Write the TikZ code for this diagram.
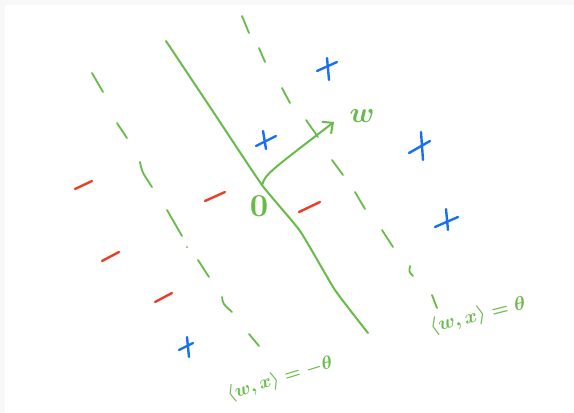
\documentclass[tikz,border=0pt]{standalone}
\usetikzlibrary{arrows.meta}
\definecolor{sketchgreen}{RGB}{104,187,72}
\definecolor{sketchblue}{RGB}{24,112,240}
\definecolor{sketchred}{RGB}{236,62,34}
\definecolor{edgegray}{RGB}{248,248,248}
\tikzset{
  hyper/.style={draw=sketchgreen, line width=2pt, line cap=round, line join=round},
  dashmark/.style={draw=sketchgreen, line width=1.8pt, line cap=round},
  wvec/.style={draw=sketchgreen, line width=2pt, line cap=round,
    -{Straight Barb[length=8pt,width=15pt,line width=2pt]}},
  posmark/.style={draw=sketchblue, line width=2.4pt, line cap=round},
  negmark/.style={draw=sketchred, line width=2.4pt, line cap=round},
  greenlabel/.style={text=sketchgreen, inner sep=0pt, transform shape, font=\boldmath},
}
\begin{document}
\begin{tikzpicture}[x=1pt,y=-1pt]
\useasboundingbox (0,0) rectangle (574,413);
\fill[edgegray] (0,0) rectangle (574,5);
\fill[edgegray] (0,5) rectangle (5,413);

% solid separating line through the origin
\coordinate (O) at (262,185);
\draw[hyper] plot[smooth, tension=0.3] coordinates
  {(166,41) (214,113) (262,185) (300,231) (335,290) (368,333)};

% dashed line <w,x> = theta (right)
\foreach \a/\b in {{(242,16)/(249,33)},{(259,48)/(265,62)},{(282,88)/(290,103)},{(306,120)/(318,137)},
  {(332,160)/(343,175)},{(355,192)/(365,209)},{(382,230)/(393,247)},{(432,295)/(437,308)}}
  \draw[dashmark] \a -- \b;
\draw[dashmark] (410,266) .. controls (409,272) .. (413,276);

% dashed line <w,x> = -theta (left)
\foreach \a/\b in {{(92,73)/(103,92)},{(117,123)/(127,138)},{(167,210)/(182,236)},
  {(198,260)/(209,277)},{(249,334)/(259,346)}}
  \draw[dashmark] \a -- \b;
\draw[dashmark] (140,162) .. controls (142,172) .. (152,187);
\draw[dashmark] (222,297) .. controls (223,304) .. (232,312);
\fill[sketchgreen] (187,247) circle (1pt);

% weight vector
\coordinate (wtip) at (334,122);
\draw[wvec] (O) .. controls (266,174) .. (wtip);
\node[greenlabel, scale=2.9] (wlab) at (362,116) {$w$};
\node[greenlabel, scale=3.2] (zero) at (259,206) {$0$};

% positive points
\foreach \h/\v in {{(317,71)--(337,62)}/{(327,58)--(329,80)},
                   {(256,146)--(276,136)}/{(263,131)--(266,149)},
                   {(409,153)--(430,141)}/{(421,132)--(423,160)},
                   {(435,227)--(458,217)}/{(446,209)--(448,230)},
                   {(179,350)--(193,343)}/{(187,337)--(189,357)}}
  {\draw[posmark] \h; \draw[posmark] \v;}

% negative points
\foreach \a/\b in {{(75,189)/(92,181)},{(102,261)/(119,252)},{(205,201)/(225,192)},
                   {(299,212)/(320,202)},{(155,302)/(172,293)}}
  \draw[negmark] \a -- \b;

% labels of the margins
\node[greenlabel, rotate=14, scale=1.95] (lplus) at (478,316)
  {$\langle w,x\rangle=\theta$};
\node[greenlabel, rotate=17, scale=1.85] (lminus) at (280,379)
  {$\langle w,x\rangle=-\theta$};
\end{tikzpicture}
\end{document}
